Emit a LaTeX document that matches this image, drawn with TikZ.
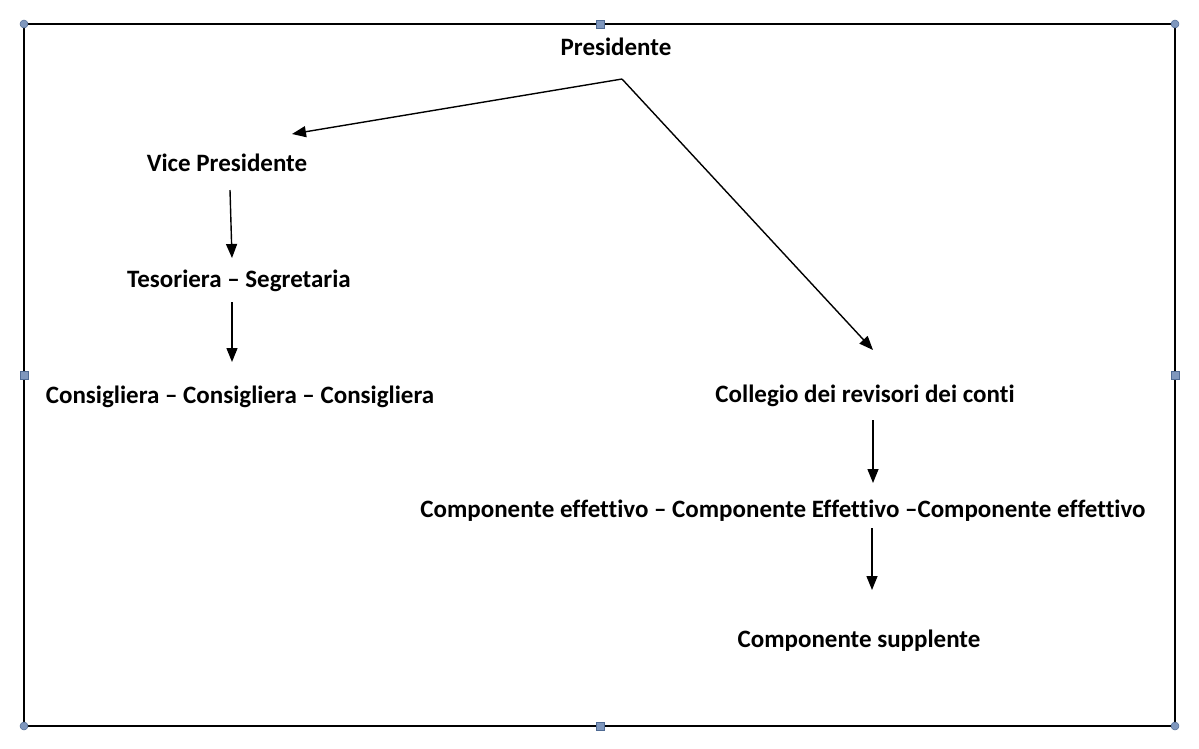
\documentclass[tikz,border=0pt]{standalone}
\usepackage{fontspec}
\setmainfont[Ligatures=NoCommon]{Carlito}
\usetikzlibrary{arrows.meta}
\definecolor{handle}{HTML}{7F97BD}
\definecolor{handleb}{HTML}{4F6A93}
\tikzset{
  lbl/.style={font=\bfseries\fontsize{25}{29}\selectfont, anchor=base, inner sep=0pt},
  conn/.style={line width=1.4pt, -{Triangle[length=14pt,width=11pt]}},
  hcirc/.style={circle, fill=handle, draw=handleb, line width=0.5pt, minimum size=8pt, inner sep=0pt},
  hsq/.style={rectangle, fill=handle, draw=handleb, line width=0.5pt, minimum size=8pt, inner sep=0pt},
}
\begin{document}
\begin{tikzpicture}[x=1pt,y=-1pt]
\useasboundingbox (0,0) rectangle (1199,748);
\draw[line width=1.6pt] (24,24) rectangle (1175,726);
\node[hcirc] at (24,24) {};
\node[hcirc] at (1175,24) {};
\node[hcirc] at (24,726) {};
\node[hcirc] at (1175,726) {};
\node[hsq] at (600,24) {};
\node[hsq] at (600,726) {};
\node[hsq] at (24,375) {};
\node[hsq] at (1175,375) {};

\node[lbl] (pres) at (616,55) {Presidente};
\node[lbl] (vice) at (227,171) {Vice Presidente};
\node[lbl] (tes) at (239,287) {Tesoriera – Segretaria};
\node[lbl] (cons) at (240,403) {Consigliera – Consigliera – Consigliera};
\node[lbl] (coll) at (865,402) {Collegio dei revisori dei conti};
\node[lbl] (comp) at (783,517) {Componente effettivo – Componente Effettivo –Componente effettivo};
\node[lbl] (supp) at (859,647) {Componente supplente};

\coordinate (apex) at (622,79);
\coordinate (vt) at (292,134);
\coordinate (ct) at (873,350);
\coordinate (a1) at (230,190);
\coordinate (a1t) at (232,258);
\coordinate (a2) at (232,302);
\coordinate (a2t) at (232,362);
\coordinate (b1) at (873,420);
\coordinate (b1t) at (873,483);
\coordinate (b2) at (872,528);
\coordinate (b2t) at (872,590);

\draw[conn] (apex) -- (vt);
\draw[conn] (apex) -- (ct);
\draw[conn] (a1) -- (a1t);
\draw[conn] (a2) -- (a2t);
\draw[conn] (b1) -- (b1t);
\draw[conn] (b2) -- (b2t);
\end{tikzpicture}
\end{document}
